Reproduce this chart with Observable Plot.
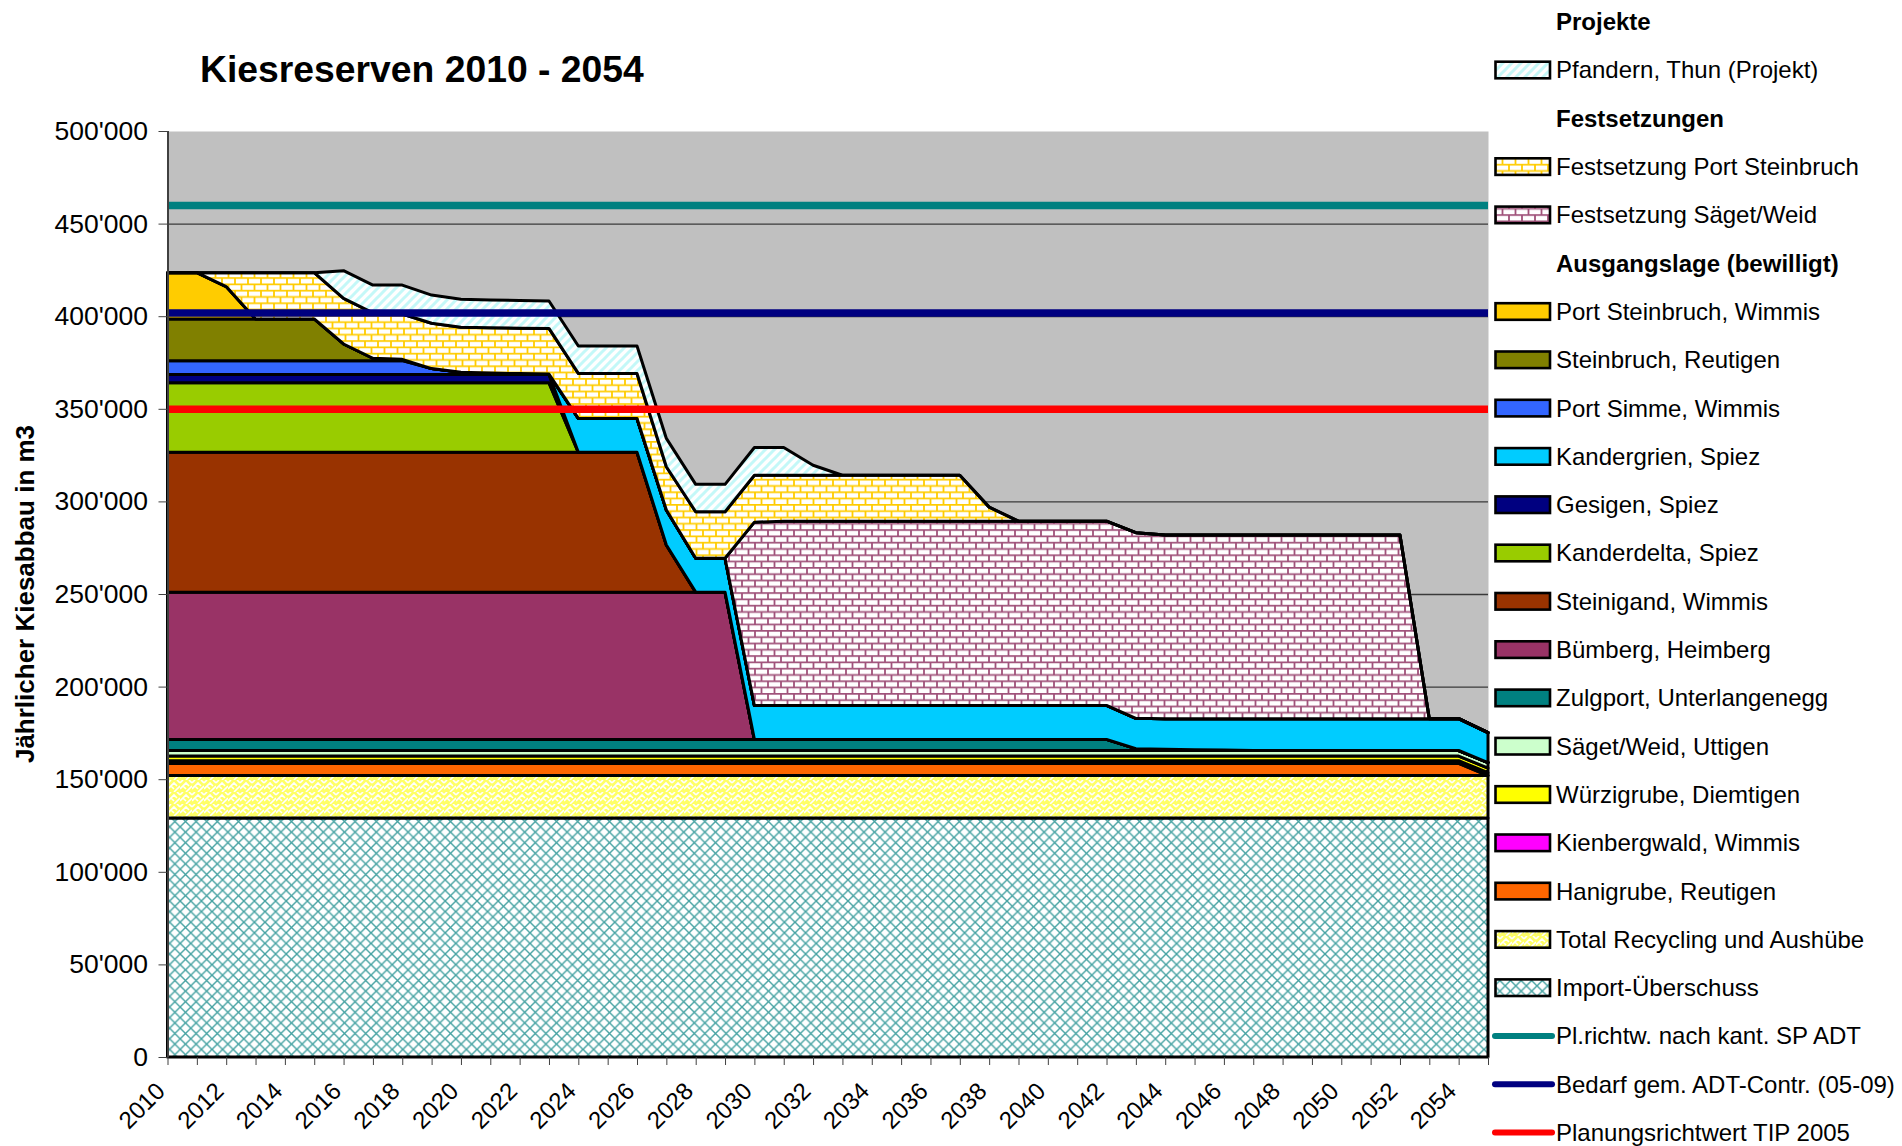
<!DOCTYPE html>
<html><head><meta charset="utf-8">
<script src="https://cdn.jsdelivr.net/npm/d3@7"></script>
<script src="https://cdn.jsdelivr.net/npm/@observablehq/plot@0.6"></script>
<style>
html,body{margin:0;padding:0;background:#fff;}
body{width:1902px;height:1146px;position:relative;overflow:hidden;font-family:'Liberation Sans',Arial,sans-serif;}
#chart{position:absolute;left:0;top:0;}
#overlay{position:absolute;left:0;top:0;pointer-events:none;}
</style></head><body>
<svg width="0" height="0" style="position:absolute">
 <defs>
  <pattern id="pPfandern" patternUnits="userSpaceOnUse" width="9" height="9">
   <rect width="9" height="9" fill="#fff"/>
   <path d="M-2.25,2.25 L2.25,-2.25 M0,9 L9,0 M6.75,11.25 L11.25,6.75" stroke="#C4F8F8" stroke-width="3"/>
  </pattern>
  <pattern id="pBrickY" patternUnits="userSpaceOnUse" width="13" height="12.6">
   <rect width="13" height="12.6" fill="#fff"/>
   <path d="M0,0.8 H13 M0,7.1 H13 M1,0.8 V7.1 M7.5,7.1 V12.6 M7.5,0 V0.8" stroke="#FFCC00" stroke-width="1.8" fill="none"/>
  </pattern>
  <pattern id="pBrickP" patternUnits="userSpaceOnUse" width="13" height="12.6">
   <rect width="13" height="12.6" fill="#fff"/>
   <path d="M0,0.8 H13 M0,7.1 H13 M1,0.8 V7.1 M7.5,7.1 V12.6 M7.5,0 V0.8" stroke="#A0527A" stroke-width="1.8" fill="none"/>
  </pattern>
  <pattern id="pWeave" patternUnits="userSpaceOnUse" width="12" height="12">
   <rect width="12" height="12" fill="#FFFF66"/>
   <path d="M0,3 L3,0 M0,9 L6,3 L9,6 M6,12 L12,6 M9,0 L12,3 M3,6 L6,9" stroke="#fff" stroke-width="1.6" fill="none"/>
  </pattern>
  <pattern id="pImport" patternUnits="userSpaceOnUse" width="10.6" height="10.6">
   <rect width="10.6" height="10.6" fill="#fff"/>
   <path d="M0,0 L10.6,10.6 M10.6,0 L0,10.6" stroke="#45A2A2" stroke-width="1.4"/>
  </pattern>
 </defs>
</svg>
<div id="chart"></div>
<svg id="overlay" width="1902" height="1146"></svg>
<script>
// ---------- data ----------
const years = [2010,2011,2012,2013,2014,2015,2016,2017,2018,2019,
  2020,2021,2022,2023,2024,2025,2026,2027,2028,2029,
  2030,2031,2032,2033,2034,2035,2036,2037,2038,2039,
  2040,2041,2042,2043,2044,2045,2046,2047,2048,2049,
  2050,2051,2052,2053,2054,2055];
const labelYears = [2010,2012,2014,2016,2018,2020,2022,2024,2026,2028,2030,2032,2034,2036,2038,2040,2042,2044,2046,2048,2050,2052,2054];
const yTicks = [0,50000,100000,150000,200000,250000,300000,350000,400000,450000,500000];

// stacked series, bottom to top
const seriesNames = [
  "Import-Überschuss","Total Recycling und Aushübe","Hanigrube, Reutigen","Kienbergwald, Wimmis",
  "Würzigrube, Diemtigen","Säget/Weid, Uttigen","Zulgport, Unterlangenegg","Bümberg, Heimberg",
  "Steinigand, Wimmis","Kanderdelta, Spiez","Gesigen, Spiez","Kandergrien, Spiez",
  "Port Simme, Wimmis","Steinbruch, Reutigen","Port Steinbruch, Wimmis",
  "Festsetzung Säget/Weid","Festsetzung Port Steinbruch","Pfandern, Thun (Projekt)"
];

const importUeberschuss = [129000,129000,129000,129000,129000,129000,129000,129000,129000,129000,
  129000,129000,129000,129000,129000,129000,129000,129000,129000,129000,
  129000,129000,129000,129000,129000,129000,129000,129000,129000,129000,
  129000,129000,129000,129000,129000,129000,129000,129000,129000,129000,
  129000,129000,129000,129000,129000,129000];
const recycling = [23000,23000,23000,23000,23000,23000,23000,23000,23000,23000,
  23000,23000,23000,23000,23000,23000,23000,23000,23000,23000,
  23000,23000,23000,23000,23000,23000,23000,23000,23000,23000,
  23000,23000,23000,23000,23000,23000,23000,23000,23000,23000,
  23000,23000,23000,23000,23000,23000];
const hanigrube = [6500,6500,6500,6500,6500,6500,6500,6500,6500,6500,
  6500,6500,6500,6500,6500,6500,6500,6500,6500,6500,
  6500,6500,6500,6500,6500,6500,6500,6500,6500,6500,
  6500,6500,6500,6500,6500,6500,6500,6500,6500,6500,
  6500,6500,6500,6500,6500,0];
const kienbergwald = [1500,1500,1500,1500,1500,1500,1500,1500,1500,1500,
  1500,1500,1500,1500,1500,1500,1500,1500,1500,1500,
  1500,1500,1500,1500,1500,1500,1500,1500,1500,1500,
  1500,1500,1500,1500,1500,1500,1500,1500,1500,1500,
  1500,1500,1500,1500,1500,1500];
const wuerzigrube = [2500,2500,2500,2500,2500,2500,2500,2500,2500,2500,
  2500,2500,2500,2500,2500,2500,2500,2500,2500,2500,
  2500,2500,2500,2500,2500,2500,2500,2500,2500,2500,
  2500,2500,2500,2500,2500,2500,2500,2500,2500,2500,
  2500,2500,2500,2500,2500,2500];
const saegetUttigen = [3000,3000,3000,3000,3000,3000,3000,3000,3000,3000,
  3000,3000,3000,3000,3000,3000,3000,3000,3000,3000,
  3000,3000,3000,3000,3000,3000,3000,3000,3000,3000,
  3000,3000,3000,3000,3000,3000,3000,3000,3000,3000,
  3000,3000,3000,3000,3000,3000];
const zulgport = [6000,6000,6000,6000,6000,6000,6000,6000,6000,6000,
  6000,6000,6000,6000,6000,6000,6000,6000,6000,6000,
  6000,6000,6000,6000,6000,6000,6000,6000,6000,6000,
  6000,6000,6000,1000,700,400,200,0,0,0,
  0,0,0,0,0,0];
const buemberg = [79500,79500,79500,79500,79500,79500,79500,79500,79500,79500,
  79500,79500,79500,79500,79500,79500,79500,79500,79500,79500,
  0,0,0,0,0,0,0,0,0,0,
  0,0,0,0,0,0,0,0,0,0,
  0,0,0,0,0,0];
const steinigand = [75500,75500,75500,75500,75500,75500,75500,75500,75500,75500,
  75500,75500,75500,75500,75500,75500,75500,25500,0,0,
  0,0,0,0,0,0,0,0,0,0,
  0,0,0,0,0,0,0,0,0,0,
  0,0,0,0,0,0];
const kanderdelta = [37500,37500,37500,37500,37500,37500,37500,37500,37500,37500,
  37500,37500,37500,37500,0,0,0,0,0,0,
  0,0,0,0,0,0,0,0,0,0,
  0,0,0,0,0,0,0,0,0,0,
  0,0,0,0,0,0];
const gesigen = [4500,4500,4500,4500,4500,4500,4500,4500,4500,4500,
  4500,4500,4500,4500,0,0,0,0,0,0,
  0,0,0,0,0,0,0,0,0,0,
  0,0,0,0,0,0,0,0,0,0,
  0,0,0,0,0,0];
const kandergrien = [0,0,0,0,0,0,0,0,0,0,
  0,0,0,0,18300,18300,18300,18900,18300,18300,
  18300,18300,18300,18300,18300,18300,18300,18300,18300,18300,
  18300,18300,18300,16400,16500,16800,17000,17200,17200,17200,
  17200,17200,17200,17200,17200,16100];
const portSimme = [7500,7500,7500,7500,7500,7500,7500,7500,7500,3200,
  1200,800,500,300,0,0,0,0,0,0,
  0,0,0,0,0,0,0,0,0,0,
  0,0,0,0,0,0,0,0,0,0,
  0,0,0,0,0,0];
const steinbruchReutigen = [22500,22500,22500,22500,22500,22500,9000,1300,700,0,
  0,0,0,0,0,0,0,0,0,0,
  0,0,0,0,0,0,0,0,0,0,
  0,0,0,0,0,0,0,0,0,0,
  0,0,0,0,0,0];
const portSteinbruch = [25000,25000,17500,0,0,0,0,0,0,0,
  0,0,0,0,0,0,0,0,0,0,
  0,0,0,0,0,0,0,0,0,0,
  0,0,0,0,0,0,0,0,0,0,
  0,0,0,0,0,0];
const festSaeget = [0,0,0,0,0,0,0,0,0,0,
  0,0,0,0,0,0,0,0,0,0,
  99000,99500,99500,99500,99500,99500,99500,99500,99500,99500,
  99500,99500,99500,100200,99200,99200,99200,99200,99200,99200,
  99200,99200,99200,0,0,0];
const festPortSteinbruch = [0,0,7500,25000,25000,25000,24600,24500,24500,24500,
  24300,24500,24500,24600,24300,24300,24300,23300,25100,25100,
  25300,24800,24800,24800,24800,24800,24800,24800,7600,0,
  0,0,0,0,0,0,0,0,0,0,
  0,0,0,0,0,0];
const pfandern = [0,0,0,0,0,0,15000,15000,15600,15200,
  15100,15000,15000,14800,14800,14800,14800,15300,14800,14800,
  15000,15000,5400,0,0,0,0,0,0,0,
  0,0,0,0,0,0,0,0,0,0,
  0,0,0,0,0,0];

const seriesValues = [importUeberschuss, recycling, hanigrube, kienbergwald, wuerzigrube, saegetUttigen,
  zulgport, buemberg, steinigand, kanderdelta, gesigen, kandergrien, portSimme, steinbruchReutigen,
  portSteinbruch, festSaeget, festPortSteinbruch, pfandern];

// reference lines
const refNames = ["Pl.richtw. nach kant. SP ADT","Bedarf gem. ADT-Contr. (05-09)","Planungsrichtwert TIP 2005"];
const refValues = [460000, 402000, 350000];

// legend group headers
const legendHeaders = ["Projekte","Festsetzungen","Ausgangslage (bewilligt)"];

// ---------- styles ----------
const seriesFills = ["url(#pImport)","url(#pWeave)","#FF6600","#FF00FF","#FFFF00","#CCFFCC","#008080","#993366",
  "#993300","#99CC00","#000080","#00CCFF","#3366FF","#808000","#FFCC00","url(#pBrickP)","url(#pBrickY)","url(#pPfandern)"];
const refColors = ["#008080","#000080","#FF0000"];

// ---------- table ----------
const rows = [];
seriesNames.forEach((s, i) => years.forEach((yr, j) => rows.push({series: s, year: yr, value: seriesValues[i][j]})));

const fmt = d => d3.format(",")(d).replace(/,/g, "'");

const chart = Plot.plot({
  width: 1902, height: 1146,
  marginLeft: 167.5, marginRight: 414, marginTop: 131, marginBottom: 89,
  style: {fontFamily: "'Liberation Sans', Arial, sans-serif", background: "transparent", overflow: "visible", color: "black"},
  x: {type: "linear", domain: [2010, 2055]},
  y: {domain: [0, 500000]},
  color: {type: "ordinal", domain: seriesNames, range: seriesFills},
  marks: [
    Plot.frame({fill: "#C0C0C0", stroke: "none"}),
    Plot.ruleY(yTicks.filter(d => d > 0 && d < 500000), {stroke: "#3a3a3a", strokeWidth: 1.3}),
    Plot.areaY(rows, Plot.stackY({x: "year", y: "value", z: "series", fill: "series", stroke: "black", strokeWidth: 3, strokeLinejoin: "round"})),
    Plot.ruleY([refValues[0]], {stroke: refColors[0], strokeWidth: 7.5}),
    Plot.ruleY([refValues[1]], {stroke: refColors[1], strokeWidth: 7.5}),
    Plot.ruleY([refValues[2]], {stroke: refColors[2], strokeWidth: 7.5}),
    Plot.ruleX([2010], {stroke: "#404040", strokeWidth: 2}),
    Plot.axisY({ticks: yTicks, tickFormat: fmt, tickSize: 9, tickPadding: 11, fontSize: 26.5, stroke: "#404040", fill: "black", label: null}),
    Plot.axisX({ticks: years, tickFormat: () => "", tickSize: 8, stroke: "#404040", label: null}),
    Plot.text(labelYears, {x: d => d, text: d => String(d), frameAnchor: "bottom", rotate: -45, textAnchor: "end", dy: 35, dx: -1.5, fontSize: 24, fill: "black"})
  ]
});
document.getElementById("chart").appendChild(chart);

// ---------- overlay: title, y label, legend ----------
const ov = d3.select("#overlay");
ov.append("text").attr("x", 200).attr("y", 82)
  .attr("font-family", "'Liberation Sans', Arial, sans-serif").attr("font-weight", "bold").attr("font-size", 37.3)
  .text("Kiesreserven 2010 - 2054");
ov.append("text").attr("transform", "translate(25,594) rotate(-90)")
  .attr("text-anchor", "middle").attr("dy", "0.35em")
  .attr("font-family", "'Liberation Sans', Arial, sans-serif").attr("font-weight", "bold").attr("font-size", 26)
  .text("Jährlicher Kiesabbau in m3");

const legendItems = [];
legendItems.push({kind: "head", label: legendHeaders[0]});
legendItems.push({kind: "area", idx: 17});
legendItems.push({kind: "head", label: legendHeaders[1]});
legendItems.push({kind: "area", idx: 16});
legendItems.push({kind: "area", idx: 15});
legendItems.push({kind: "head", label: legendHeaders[2]});
for (let i = 14; i >= 0; i--) legendItems.push({kind: "area", idx: i});
for (let i = 0; i < refNames.length; i++) legendItems.push({kind: "line", idx: i});

const lg = ov.append("g").attr("font-family", "'Liberation Sans', Arial, sans-serif").attr("font-size", 24);
legendItems.forEach((it, r) => {
  const cy = 21.7 + 48.3 * r;
  let label;
  if (it.kind === "head") {
    label = it.label;
  } else if (it.kind === "area") {
    label = seriesNames[it.idx];
    lg.append("rect").attr("x", 1495.5).attr("y", cy - 8.3).attr("width", 54.5).attr("height", 16.6)
      .attr("fill", seriesFills[it.idx]).attr("stroke", "black").attr("stroke-width", 2.6);
  } else {
    label = refNames[it.idx];
    lg.append("line").attr("x1", 1495).attr("x2", 1552).attr("y1", cy).attr("y2", cy)
      .attr("stroke", refColors[it.idx]).attr("stroke-width", 6).attr("stroke-linecap", "round");
  }
  lg.append("text").attr("x", 1556).attr("y", cy).attr("dy", "0.35em")
    .attr("font-weight", it.kind === "head" ? "bold" : null)
    .text(label);
});
</script>
</body></html>
